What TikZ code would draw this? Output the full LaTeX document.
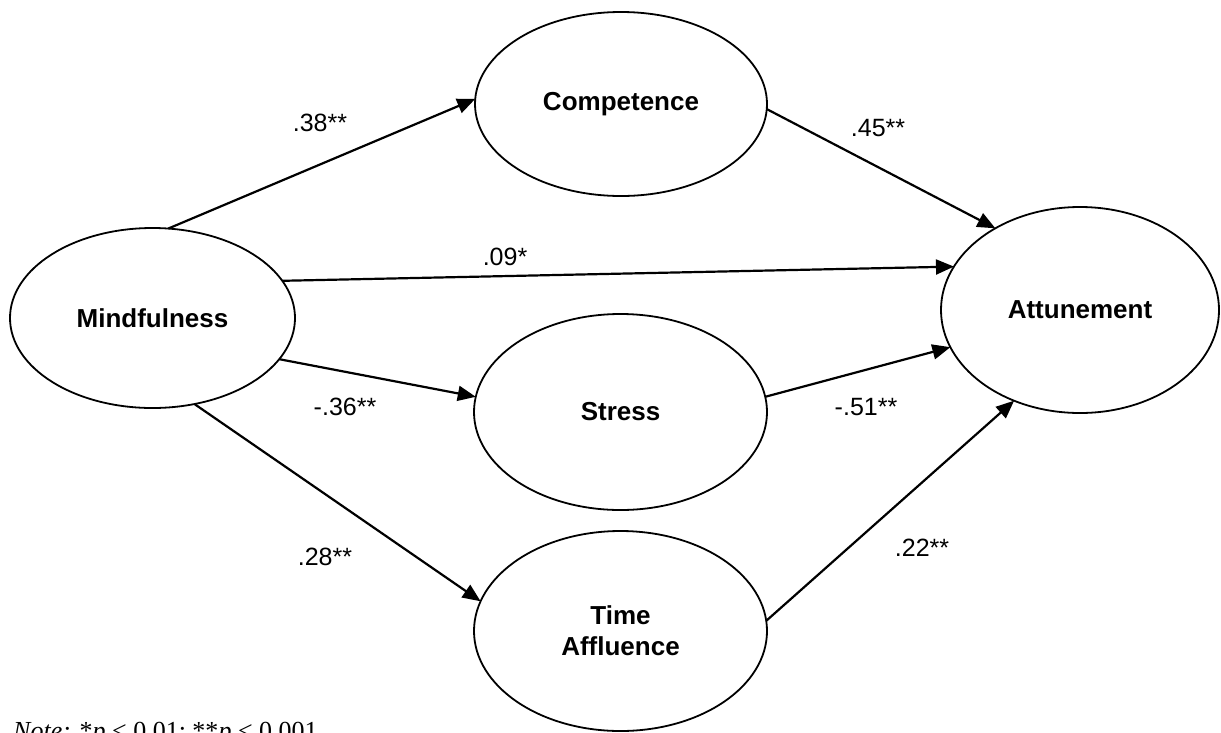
\documentclass[tikz,border=0pt]{standalone}
\usepackage{fontspec}
\setmainfont{Liberation Sans}
\newfontfamily\timesfont{Liberation Serif}
\usetikzlibrary{arrows.meta,shapes.geometric}
\begin{document}
\begin{tikzpicture}[x=1pt,y=-1pt,
  latent/.style={draw, ellipse, line width=1.8pt, inner sep=0pt, outer sep=0pt,
    font=\fontsize{26}{31}\selectfont\bfseries, align=center},
  effarrow/.style={line width=2.2pt, -{Triangle[length=18pt,width=15pt]}},
  coef/.style={font=\fontsize{25}{30}\selectfont, inner sep=0pt}]
\useasboundingbox (0,0) rectangle (1221,732);
\node[latent, minimum width=285pt, minimum height=180pt] (mind) at (152.5,318) {Mindfulness};
\node[latent, minimum width=292pt, minimum height=184pt] (comp) at (621,104) {Competence};
\node[latent, minimum width=278pt, minimum height=206pt] (att) at (1080,310) {Attunement};
\node[latent, minimum width=293pt, minimum height=196pt] (stress) at (620.5,412) {Stress};
\node[latent, minimum width=293pt, minimum height=200pt] (ta) at (620.5,631) {Time\\Affluence};

\draw[effarrow] (mind.80.8) -- (comp.178.4);
\draw[effarrow] (comp.-2.4) -- (att.136.4);
\draw[effarrow] (mind.16.6) -- (att.161.2);
\draw[effarrow] (mind.-18.6) -- (stress.174.2);
\draw[effarrow] (stress.6.3) -- (att.196.4);
\draw[effarrow] (mind.-64.9) -- (ta.168.1);
\draw[effarrow] (ta.4.3) -- (att.234.4);

\node[coef] (l1) at (320,123) {.38**};
\node[coef] (l2) at (878,128) {.45**};
\node[coef] (l3) at (505,257) {.09*};
\node[coef] (l4) at (345,407) {-.36**};
\node[coef] (l5) at (866,407) {-.51**};
\node[coef] (l6) at (325,557) {.28**};
\node[coef] (l7) at (922,548) {.22**};

\node[anchor=base west, inner sep=0pt, font=\timesfont\fontsize{26}{31}\selectfont] (note) at (13,739)
  {\textit{Note:} *\textit{p} < 0.01; **\textit{p} < 0.001};
\end{tikzpicture}
\end{document}
